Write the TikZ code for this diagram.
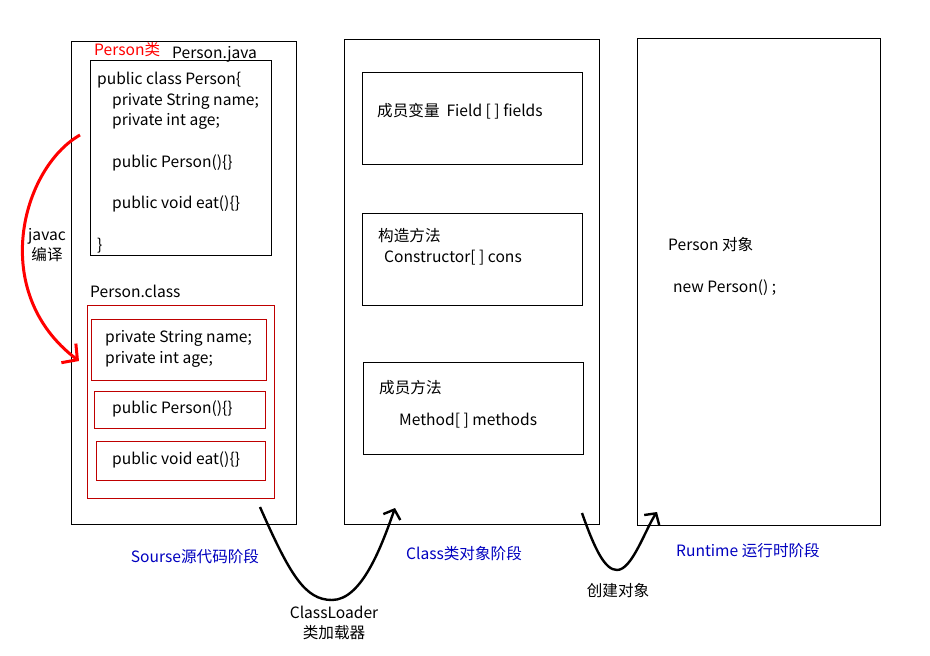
\documentclass[tikz,border=0pt]{standalone}
\usepackage{fontspec}
\setmainfont{Noto Sans CJK SC}
\usetikzlibrary{arrows.meta,positioning}

\begin{document}
\begin{tikzpicture}[x=1pt,y=-1pt,
    font=\fontsize{15.6}{20.7}\selectfont,
    stage/.style={draw, line width=0.8pt, inner sep=0pt},
    part/.style={draw=red!75!black, line width=0.8pt, inner sep=0pt},
    txt/.style={anchor=base west, inner sep=0pt, align=left},
    phase/.style={text=blue!75!black, inner sep=0pt},
    flow/.style={line width=2.4pt, -{Straight Barb[length=8pt,width=18pt]}},
    compile/.style={red, line width=3pt, -{Straight Barb[length=11pt,width=24pt]}}
    ]
    \useasboundingbox (0,0) rectangle (930,656);

    % three stages
    \node[stage, minimum width=225pt, minimum height=483pt] (source) at (183.5,282.5) {};
    \node[stage, minimum width=255pt, minimum height=485pt] (classobj) at (471.5,281.5) {};
    \node[stage, minimum width=243pt, minimum height=487pt] (runtime) at (758.5,281.5) {};

    % source stage (multi-line texts sit on their last baseline)
    \node[txt, text=red] (pclass) at (94,55) {Person类};
    \node[txt] (pjava) at (172,58) {Person.java};
    \node[stage, minimum width=181pt, minimum height=195pt] (javabox) at (180.5,157.5) {};
    \node[txt] (javacode) at (97,250) {public class Person\{\\
        \hspace*{15pt}private String name;\\
        \hspace*{15pt}private int age;\\[20.7pt]
        \hspace*{15pt}public Person()\{\}\\[20.7pt]
        \hspace*{15pt}public void eat()\{\}\\[20.7pt]
        \}};
    \node[txt] (pcls) at (90,297) {Person.class};
    \node[part, minimum width=187pt, minimum height=193pt] (classbox) at (180.5,401.5) {};
    \node[part, minimum width=175pt, minimum height=61pt] (fieldpart) at (178.5,349.5) {};
    \node[part, minimum width=171pt, minimum height=37pt] (ctorpart) at (179.5,409.5) {};
    \node[part, minimum width=169pt, minimum height=39pt] (eatpart) at (180.5,460.5) {};
    \node[txt] at (105,363) {private String name;\\private int age;};
    \node[txt] at (112,413) {public Person()\{\}};
    \node[txt] at (112,464) {public void eat()\{\}};

    \node[inner sep=0pt, align=center] (javac) at (47,245) {javac\\编译};
    \coordinate (c1) at (80,135);
    \coordinate (c2) at (79,361);
    \draw[compile] (c1) .. controls (22,168) and (-12,292) .. (c2);

    % class object stage
    \node[stage, minimum width=220pt, minimum height=92pt] (fields) at (472,118) {};
    \node[stage, minimum width=220pt, minimum height=92pt] (cons) at (472,259) {};
    \node[stage, minimum width=220pt, minimum height=92pt] (methods) at (473,408) {};
    \node[txt] at (377,116) {成员变量\ \ Field [ ] fields};
    \node[txt] at (378,262) {构造方法\\\hspace*{6pt}Constructor[ ] cons};
    \node[txt] at (379,393) {成员方法};
    \node[txt] at (399,425) {Method[ ] methods};

    % runtime stage
    \node[txt] at (668,250) {Person 对象};
    \node[txt] at (673,292) {new Person() ;};

    % phase labels
    \node[phase] (p1) at (195,557) {Sourse源代码阶段};
    \node[phase] (p2) at (464,554) {Class类对象阶段};
    \node[phase] (p3) at (748,551) {Runtime 运行时阶段};

    % transitions
    \coordinate (l1) at (260,507);
    \coordinate (l2) at (395,508);
    \draw[flow] (l1) .. controls (290,575) and (305,600) .. (332,600)
        .. controls (362,600) and (382,545) .. (l2);
    \node[inner sep=0pt, align=center] (loader) at (334,623) {ClassLoader\\类加载器};

    \coordinate (n1) at (582,513);
    \coordinate (n2) at (657,512);
    \draw[flow] (n1) .. controls (595,550) and (605,570) .. (617,570)
        .. controls (632,570) and (645,530) .. (n2);
    \node[inner sep=0pt] (create) at (618,591) {创建对象};
\end{tikzpicture}
\end{document}
